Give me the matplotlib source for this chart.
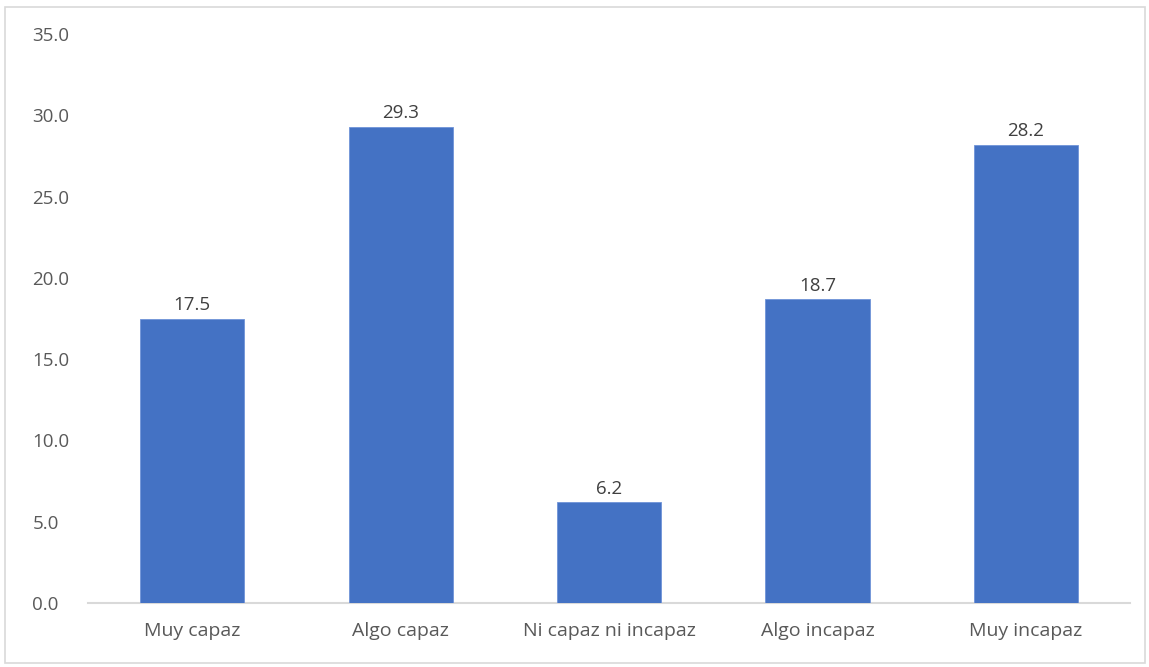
import matplotlib
matplotlib.use('Agg')
import matplotlib.pyplot as plt
from matplotlib.patches import Rectangle

categorias = ["Muy capaz", "Algo capaz", "Ni capaz ni incapaz", "Algo incapaz", "Muy incapaz"]
valores = [17.5, 29.3, 6.2, 18.7, 28.2]
ticks_y = [0, 5, 10, 15, 20, 25, 30, 35]

W, H = 1149, 667
fig = plt.figure(figsize=(W / 100, H / 100), dpi=100, facecolor='white')
plt.rcParams['font.family'] = ['Open Sans', 'DejaVu Sans']

# borde del gráfico estilo Excel
fig.patches.append(Rectangle((5 / W, 4 / H), 1 - 9 / W, 1 - 11 / H, transform=fig.transFigure,
                             fill=False, edgecolor='#d9d9d9', linewidth=1.2))

ax = fig.add_axes([88 / W, 1 - 603 / H, (1130 - 88) / W, (603 - 34) / H])
x = list(range(len(categorias)))
ax.bar(x, valores, width=0.5, color='#4472c4', edgecolor='#6f93d8', linewidth=0.6, zorder=2)

for xi, v in zip(x, valores):
    ax.annotate(f"{v:.1f}", (xi, v), xytext=(0, 3), textcoords='offset points',
                ha='center', va='bottom', fontsize=13.5, color='#404040')

ax.set_xlim(-0.5, 4.5)
ax.set_ylim(0, 35)
ax.set_yticks(ticks_y)
ax.set_yticklabels([f"{t:.1f}" for t in ticks_y], fontsize=13.5, color='#595959')
ax.set_xticks(x)
ax.set_xticklabels(categorias, fontsize=14, color='#595959')
ax.tick_params(length=0)
ax.tick_params(axis='y', pad=40)
ax.tick_params(axis='x', pad=14)
for s in ['top', 'right', 'left']:
    ax.spines[s].set_visible(False)
ax.spines['bottom'].set_color('#d9d9d9')
ax.spines['bottom'].set_linewidth(1.5)
ax.spines['bottom'].set_zorder(1)
for lbl in ax.get_yticklabels():
    lbl.set_horizontalalignment('left')

fig.savefig('out.png', dpi=100, facecolor='white')
